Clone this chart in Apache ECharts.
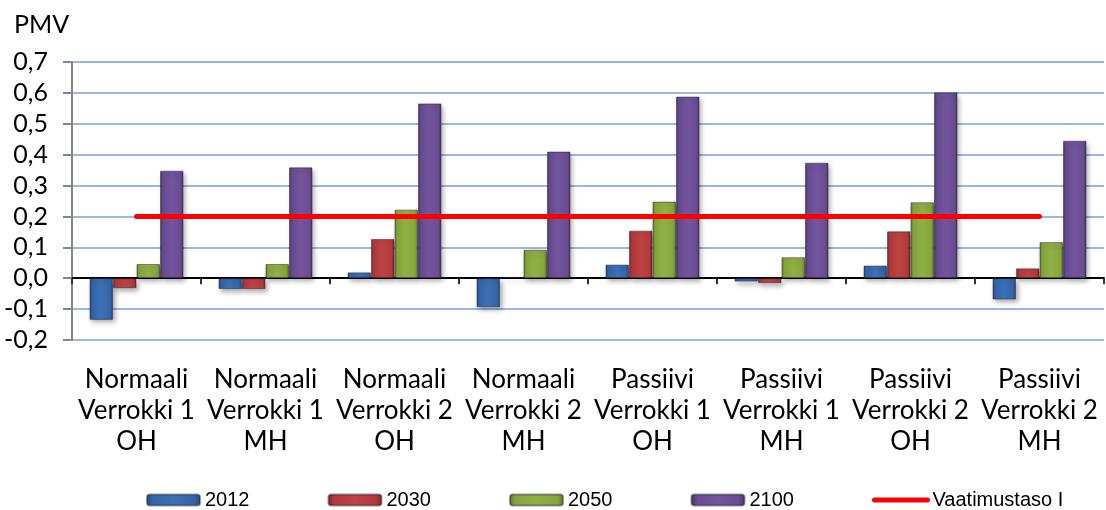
<!DOCTYPE html>
<html>
<head>
<meta charset="utf-8">
<script src="https://cdn.jsdelivr.net/npm/echarts@6/dist/echarts.min.js"></script>
<style>
  html, body { margin: 0; padding: 0; background: #fff; }
  #chart { width: 1106px; height: 510px; }
</style>
</head>
<body>
<div id="chart"></div>
<script>
// Categories (building type / reference / room)
const categories = [
  'Normaali\nVerrokki 1\nOH',
  'Normaali\nVerrokki 1\nMH',
  'Normaali\nVerrokki 2\nOH',
  'Normaali\nVerrokki 2\nMH',
  'Passiivi\nVerrokki 1\nOH',
  'Passiivi\nVerrokki 1\nMH',
  'Passiivi\nVerrokki 2\nOH',
  'Passiivi\nVerrokki 2\nMH'
];

// PMV values per climate year
const pmv2012 = [-0.135, -0.035, 0.019, -0.094, 0.044, -0.011, 0.041, -0.069];
const pmv2030 = [-0.032, -0.035, 0.127, 0.003, 0.154, -0.016, 0.152, 0.032];
const pmv2050 = [0.046, 0.046, 0.222, 0.092, 0.248, 0.068, 0.246, 0.117];
const pmv2100 = [0.348, 0.359, 0.566, 0.410, 0.588, 0.374, 0.602, 0.445];

// Requirement level I
const vaatimustaso = [0.2, 0.2, 0.2, 0.2, 0.2, 0.2, 0.2, 0.2];

// Y-axis tick labels (decimal comma)
const yTickLabels = ['-0,2', '-0,1', '0,0', '0,1', '0,2', '0,3', '0,4', '0,5', '0,6', '0,7'];
const yMin = -0.2, yMax = 0.7, yStep = 0.1;

const FONT = 'Lato, "Open Sans", sans-serif';

function bevel(dark, mid, light) {
  return {
    type: 'linear', x: 0, y: 0, x2: 1, y2: 0,
    colorStops: [
      { offset: 0, color: dark },
      { offset: 0.12, color: mid },
      { offset: 0.5, color: light },
      { offset: 0.88, color: mid },
      { offset: 1, color: dark }
    ]
  };
}

const palette = {
  '2012': bevel('#23497f', '#3465a8', '#3d70b5'),
  '2030': bevel('#7e2526', '#b3393a', '#bd4443'),
  '2050': bevel('#5d7a27', '#86a63c', '#8fb045'),
  '2100': bevel('#47305f', '#694c92', '#72559c')
};

function barSeries(name, data) {
  return {
    name: name,
    type: 'bar',
    data: data,
    barWidth: 23.5,
    barGap: '0%',
    itemStyle: {
      color: palette[name],
      borderColor: 'rgba(30,30,50,0.45)',
      borderWidth: 1,
      shadowColor: 'rgba(0,0,0,0.35)',
      shadowBlur: 5,
      shadowOffsetX: 2,
      shadowOffsetY: 3
    }
  };
}

const chart = echarts.init(document.getElementById('chart'), null, { renderer: 'canvas' });

chart.setOption({
  animation: false,
  backgroundColor: '#ffffff',
  title: {
    text: 'PMV',
    left: 9,
    top: 7,
    textStyle: { fontFamily: FONT, fontSize: 25, fontWeight: 'normal', color: '#000' }
  },
  grid: { left: 72, right: 2, top: 62, bottom: 170, containLabel: false },
  legend: {
    left: 146,
    top: 490,
    padding: 0,
    itemWidth: 53,
    itemHeight: 11,
    itemGap: 78,
    textStyle: {
      fontFamily: '"Liberation Sans", Arial, sans-serif',
      fontSize: 20,
      color: '#000',
      width: 42
    },
    data: [
      '2012', '2030', '2050', '2100',
      {
        name: 'Vaatimustaso I',
        itemStyle: { opacity: 0 },
        lineStyle: { width: 5, color: '#ff0000' }
      }
    ]
  },
  xAxis: [
    {
      type: 'category',
      data: categories,
      axisLine: { onZero: true, lineStyle: { color: '#000', width: 2 } },
      axisTick: { show: true, length: 6, lineStyle: { color: '#333', width: 2 } },
      axisLabel: { show: false },
      splitLine: { show: false }
    },
    {
      type: 'category',
      data: categories,
      position: 'bottom',
      axisLine: { show: false, onZero: false },
      axisTick: { show: false },
      axisLabel: {
        interval: 0,
        margin: 24,
        fontFamily: FONT,
        fontSize: 26,
        lineHeight: 31,
        color: '#000'
      }
    }
  ],
  yAxis: {
    type: 'value',
    min: yMin,
    max: yMax,
    interval: yStep,
    axisLine: { show: true, lineStyle: { color: '#868686', width: 2 } },
    axisTick: { show: true, length: 9, lineStyle: { color: '#868686', width: 2 } },
    axisLabel: {
      margin: 24,
      fontFamily: FONT,
      fontSize: 25,
      color: '#000',
      formatter: function (v) {
        const i = Math.round((v - yMin) / yStep);
        return yTickLabels[i];
      }
    },
    splitLine: { show: true, lineStyle: { color: '#98b9e3', width: 2 } }
  },
  series: [
    barSeries('2012', pmv2012),
    barSeries('2030', pmv2030),
    barSeries('2050', pmv2050),
    barSeries('2100', pmv2100),
    {
      name: 'Vaatimustaso I',
      type: 'line',
      data: vaatimustaso,
      symbol: 'none',
      z: 10,
      itemStyle: { color: '#ff0000' },
      lineStyle: { color: '#ff0000', width: 5, cap: 'round' }
    }
  ]
});
</script>
</body>
</html>
